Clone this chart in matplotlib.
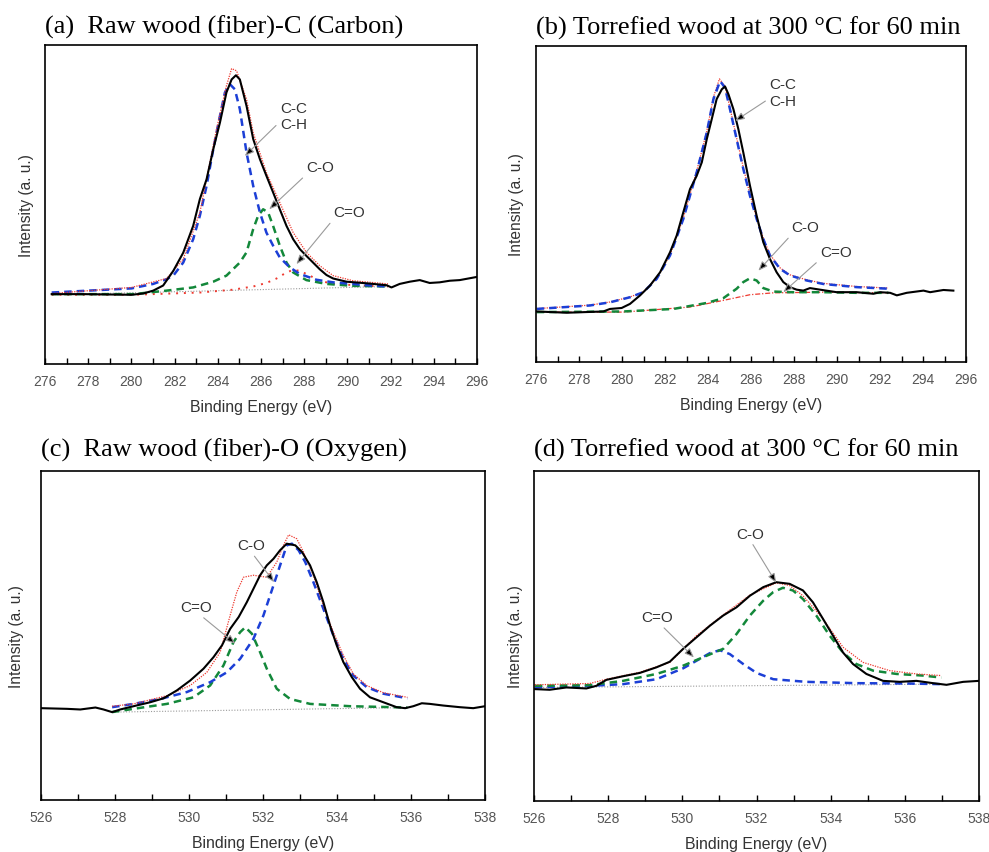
import matplotlib
matplotlib.use('Agg')
import matplotlib.pyplot as plt
from matplotlib.ticker import MultipleLocator

plt.rcParams['font.family'] = ['Liberation Sans', 'DejaVu Sans']

# ---------- (a) raw wood C1s ----------
a_meas_x = [276.31, 277.77, 280.01, 280.55, 281.01, 281.47, 281.94, 282.40, 282.86, 283.17, 283.48, 283.79,
            284.10, 284.40, 284.64, 284.84, 285.02, 285.33, 285.64, 285.95, 286.25, 286.56, 286.87, 287.18,
            287.49, 287.80, 288.10, 288.41, 288.72, 289.03, 289.34, 289.96, 290.88, 291.81, 292.04, 292.42,
            292.89, 293.35, 293.81, 294.27, 294.74, 295.20, 296.00]
a_meas_y = [21.9, 21.9, 21.7, 22.1, 23.0, 24.6, 29.2, 34.9, 43.3, 51.7, 57.9, 67.3,
            75.7, 85.1, 89.2, 90.5, 89.2, 80.9, 70.5, 64.2, 59.0, 53.8, 48.5, 43.3,
            39.1, 36.0, 33.9, 31.8, 29.7, 27.9, 26.8, 25.8, 25.3, 24.7, 24.0, 25.1,
            25.8, 26.3, 25.4, 25.6, 26.1, 26.3, 27.3]
a_cc_x = [276.31, 280.01, 281.01, 281.63, 281.94, 282.40, 282.86, 283.17, 283.48, 283.79, 284.10, 284.33,
          284.56, 284.79, 285.02, 285.33, 285.64, 285.95, 286.25, 286.56, 286.87, 287.33, 287.80, 288.57,
          289.34, 290.26, 290.88, 291.88]
a_cc_y = [22.4, 23.7, 25.1, 26.6, 27.7, 31.8, 39.1, 46.5, 55.8, 67.3, 77.8, 85.1,
          87.7, 86.1, 79.9, 66.3, 55.8, 47.5, 41.2, 37.1, 33.4, 30.3, 28.2, 26.4,
          25.6, 25.1, 24.7, 24.3]
a_sum_x = [276.31, 280.01, 281.63, 282.40, 283.17, 283.94, 284.40, 284.64, 284.87, 285.33, 285.64, 286.25,
           286.87, 287.49, 288.10, 288.72, 289.34, 290.26, 291.88]
a_sum_y = [22.1, 24.0, 26.8, 32.9, 47.5, 73.6, 87.2, 92.6, 91.9, 83.0, 72.5, 60.0,
           50.6, 41.2, 35.0, 30.8, 27.7, 26.1, 25.1]
a_co_x = [276.31, 280.09, 281.63, 282.86, 283.79, 284.40, 285.02, 285.33, 285.64, 285.87, 286.10, 286.33,
          286.56, 286.87, 287.18, 287.49, 288.10, 289.03, 290.26, 291.88]
a_co_y = [21.9, 21.9, 23.0, 24.0, 25.8, 27.7, 31.8, 35.0, 42.3, 46.5, 48.5, 47.5,
          43.3, 37.1, 31.8, 28.7, 26.3, 25.1, 24.5, 24.3]
a_cdo_x = [276.31, 280.09, 283.17, 284.71, 285.64, 286.25, 286.72, 287.18, 287.49, 287.80, 288.26, 288.72,
           289.34, 290.88, 291.88]
a_cdo_y = [21.7, 21.7, 22.4, 23.3, 24.3, 25.4, 26.8, 28.7, 29.5, 29.2, 27.7, 26.1,
           25.1, 24.5, 24.3]
a_base_x = [276.31, 291.88]
a_base_y = [21.7, 24.3]

# ---------- (b) torrefied C1s ----------
b_meas_x = [276.03, 277.43, 279.13, 279.44, 279.98, 280.37, 280.84, 281.30, 281.77, 282.23, 282.54, 282.85,
            283.16, 283.47, 283.71, 283.94, 284.17, 284.40, 284.64, 284.79, 284.95, 285.18, 285.41, 285.64,
            285.95, 286.26, 286.57, 286.88, 287.19, 287.50, 287.81, 288.12, 288.43, 288.74, 289.21, 289.98,
            290.91, 291.69, 292.00, 292.47, 292.78, 293.24, 294.02, 294.33, 294.95, 295.41]
b_meas_y = [16.0, 15.6, 16.0, 16.8, 17.1, 18.4, 21.1, 24.2, 28.4, 34.7, 40.0, 47.4,
            54.7, 58.9, 63.2, 70.5, 76.8, 83.2, 86.3, 87.2, 84.7, 80.0, 73.7, 66.3,
            55.8, 46.3, 37.9, 32.6, 28.4, 25.3, 23.7, 22.9, 22.6, 23.4, 22.9, 22.1,
            22.1, 21.6, 22.1, 21.9, 21.1, 21.9, 22.6, 22.1, 22.8, 22.6]
b_cc_x = [276.03, 278.51, 279.44, 280.37, 280.99, 281.61, 282.23, 282.85, 283.47, 283.94, 284.25, 284.56,
          284.79, 285.02, 285.33, 285.64, 285.95, 286.26, 286.57, 286.88, 287.35, 287.81, 288.59, 289.36,
          290.91, 292.39]
b_cc_y = [16.8, 17.9, 18.9, 20.5, 22.1, 26.3, 33.7, 45.3, 60.0, 72.6, 83.2, 88.9,
          86.8, 80.0, 70.5, 61.1, 52.6, 45.3, 38.9, 33.7, 29.5, 27.4, 25.8, 24.7,
          23.7, 23.2]
b_sum_x = [276.03, 278.51, 279.44, 280.37, 280.99, 281.61, 282.23, 282.85, 283.47, 283.94, 284.25, 284.53,
           284.79, 285.02, 285.33, 285.64, 285.95, 286.26, 286.57, 286.88, 287.35, 287.81, 288.59, 289.36,
           290.91, 292.39]
b_sum_y = [16.9, 18.0, 19.0, 20.6, 22.2, 26.5, 33.9, 45.6, 60.4, 73.0, 83.8, 89.6,
           87.2, 80.4, 70.9, 61.5, 53.0, 45.6, 39.2, 34.0, 29.8, 27.6, 26.0, 24.9,
           23.9, 23.4]
b_co_x = [276.03, 280.06, 282.39, 283.94, 284.71, 285.33, 285.64, 285.95, 286.26, 286.57, 287.04, 287.81,
          289.36, 290.91, 292.39]
b_co_y = [15.8, 16.0, 16.8, 18.7, 20.2, 23.2, 25.3, 26.5, 25.8, 23.4, 22.3, 22.1,
          22.1, 21.9, 21.9]
b_cdo_x = [276.03, 280.06, 283.16, 284.71, 285.95, 287.04, 289.36, 292.39]
b_cdo_y = [15.8, 15.8, 17.4, 19.5, 21.3, 21.9, 22.1, 21.9]

# ---------- (c) raw wood O1s ----------
c_meas_x = [526.00, 526.70, 527.06, 527.47, 527.69, 527.92, 528.14, 528.50, 528.95, 529.31, 529.67, 530.03,
            530.39, 530.66, 530.89, 531.11, 531.34, 531.56, 531.74, 531.92, 532.10, 532.28, 532.46, 532.64,
            532.87, 533.05, 533.27, 533.45, 533.63, 533.81, 533.99, 534.17, 534.40, 534.62, 534.89, 535.25,
            535.61, 535.84, 536.06, 536.29, 536.51, 536.87, 537.32, 537.68, 538.00]
c_meas_y = [27.9, 27.7, 27.5, 28.1, 27.5, 26.7, 27.5, 28.5, 29.7, 30.9, 33.3, 36.3,
            39.9, 43.4, 47.0, 52.0, 55.6, 60.1, 64.2, 68.3, 71.3, 73.3, 75.9, 77.9,
            77.4, 75.4, 71.3, 66.2, 60.1, 53.0, 47.0, 41.9, 37.3, 33.8, 31.2, 29.7,
            28.2, 27.9, 28.5, 29.4, 29.2, 28.7, 28.2, 27.9, 28.5]
c_co_x = [527.92, 528.50, 529.22, 529.94, 530.57, 531.02, 531.38, 531.74, 532.01, 532.28, 532.46, 532.64,
          532.78, 532.96, 533.14, 533.36, 533.63, 533.90, 534.17, 534.44, 534.80, 535.25, 535.90]
c_co_y = [28.2, 29.2, 30.7, 32.8, 35.8, 38.8, 42.9, 49.0, 56.1, 65.2, 71.3, 77.4,
          77.9, 75.9, 72.3, 66.2, 58.1, 50.0, 42.9, 37.8, 34.3, 32.3, 30.9]
c_sum_x = [527.92, 528.50, 529.40, 530.03, 530.48, 530.84, 531.11, 531.29, 531.47, 531.74, 532.10, 532.37,
           532.55, 532.69, 532.91, 533.09, 533.36, 533.63, 533.90, 534.17, 534.44, 534.80, 535.25, 535.90]
c_sum_y = [28.5, 29.2, 31.7, 34.8, 38.8, 44.9, 56.1, 63.2, 67.7, 68.3, 67.7, 72.3,
           77.4, 80.6, 79.4, 75.4, 68.3, 59.1, 51.0, 43.9, 38.3, 34.8, 32.6, 31.2]
c_cdo_x = [527.92, 528.50, 529.40, 530.12, 530.57, 530.93, 531.20, 531.38, 531.52, 531.70, 531.92, 532.10,
           532.37, 532.73, 533.27, 534.35, 535.90]
c_cdo_y = [26.7, 27.7, 29.2, 31.2, 34.8, 40.9, 48.0, 51.0, 52.5, 50.5, 44.9, 39.9,
           33.8, 30.7, 29.2, 28.5, 28.1]
c_base_x = [527.92, 535.90]
c_base_y = [26.7, 28.1]

# ---------- (d) torrefied O1s ----------
d_meas_x = [526.02, 526.42, 526.87, 527.41, 527.68, 527.95, 528.40, 528.85, 529.30, 529.66, 530.02, 530.38,
            530.74, 531.10, 531.46, 531.82, 532.18, 532.53, 532.89, 533.25, 533.52, 533.79, 534.06, 534.33,
            534.60, 534.96, 535.41, 535.86, 536.31, 536.76, 537.12, 537.57, 538.00]
d_meas_y = [33.9, 33.7, 34.4, 34.1, 34.9, 36.7, 37.8, 38.8, 40.5, 42.2, 46.1, 49.6,
            53.1, 56.2, 58.7, 62.2, 64.8, 66.3, 65.8, 63.8, 60.2, 55.2, 50.1, 45.0,
            41.5, 38.5, 36.4, 36.1, 36.4, 35.7, 35.2, 36.1, 36.4]
d_sum_x = [526.02, 527.50, 527.95, 528.85, 529.66, 530.38, 531.10, 531.82, 532.53, 532.89, 533.25, 533.79,
           534.33, 534.87, 535.59, 536.31, 536.98]
d_sum_y = [35.2, 35.6, 36.9, 39.0, 42.0, 50.1, 56.4, 62.4, 66.1, 65.3, 62.2, 55.2,
           46.6, 42.0, 39.5, 38.5, 38.0]
d_co_x = [526.02, 527.50, 528.40, 529.30, 530.02, 530.65, 531.10, 531.46, 531.82, 532.18, 532.45, 532.71,
          532.98, 533.25, 533.61, 533.97, 534.33, 534.69, 535.14, 535.77, 536.49, 536.98]
d_co_y = [34.9, 35.1, 36.4, 38.5, 41.0, 44.0, 46.1, 50.6, 56.2, 60.7, 63.3, 64.6,
          63.8, 61.2, 56.2, 50.1, 45.0, 41.5, 39.5, 38.5, 38.0, 37.4]
d_cdo_x = [526.02, 527.50, 528.40, 529.30, 530.02, 530.38, 530.74, 531.01, 531.28, 531.64, 532.00, 532.45,
           533.34, 534.69, 536.04, 536.98]
d_cdo_y = [34.4, 34.9, 35.4, 36.9, 40.2, 42.5, 44.8, 45.7, 44.5, 41.5, 38.8, 36.9,
           36.1, 35.7, 35.6, 35.4]
d_base_x = [526.02, 536.98]
d_base_y = [34.4, 35.4]

titles = ['(a)  Raw wood (fiber)-C (Carbon)',
          '(b) Torrefied wood at 300 \u00b0C for 60 min',
          '(c)  Raw wood (fiber)-O (Oxygen)',
          '(d) Torrefied wood at 300 \u00b0C for 60 min']

BLUE = '#1c3fd6'
GREEN = '#13883a'
RED = '#ee3a30'
GREY = '#9a9a9a'

fig = plt.figure(figsize=(9.89, 8.53), dpi=100)
ax_a = fig.add_axes([0.0455, 0.5721, 0.4368, 0.374])
ax_b = fig.add_axes([0.542, 0.5744, 0.4348, 0.3705])
ax_c = fig.add_axes([0.0415, 0.061, 0.449, 0.3857])
ax_d = fig.add_axes([0.540, 0.0598, 0.450, 0.3869])


def style_axis(ax, xlim, ylim, ypad=9):
    ax.set_xlim(*xlim)
    ax.set_ylim(*ylim)
    ax.xaxis.set_major_locator(MultipleLocator(2))
    ax.xaxis.set_minor_locator(MultipleLocator(1))
    ax.tick_params(axis='x', which='both', direction='in', length=4, width=1,
                   labelsize=10, labelcolor='#555555', pad=7)
    ax.set_yticks([])
    for s in ax.spines.values():
        s.set_linewidth(1.2)
    ax.set_xlabel('Binding Energy (eV)', fontsize=11.4, color='#333333', labelpad=8)
    ax.set_ylabel('Intensity (a. u.)', fontsize=11.2, color='#333333', labelpad=ypad)


def label(ax, text, txy, head, rel=(0, 0)):
    ax.annotate(text, xy=head, xytext=txy, fontsize=11, color='#333333',
                ha='left', va='center', linespacing=1.2,
                arrowprops=dict(arrowstyle='-|>,head_length=0.5,head_width=0.2',
                                color=GREY, fc='black', lw=0.8, relpos=rel,
                                shrinkA=1, shrinkB=0))


# (a)
ax = ax_a
ax.plot(a_base_x, a_base_y, color=GREY, lw=0.8, ls=(0, (1, 1.5)))
ax.plot(a_cdo_x, a_cdo_y, color=RED, lw=1.4, ls=(0, (1, 3)))
ax.plot(a_co_x, a_co_y, color=GREEN, lw=1.8, ls=(0, (3, 2)))
ax.plot(a_cc_x, a_cc_y, color=BLUE, lw=1.8, ls=(0, (3, 2)))
ax.plot(a_sum_x, a_sum_y, color=RED, lw=0.9, ls=(0, (1, 1)))
ax.plot(a_meas_x, a_meas_y, color='black', lw=1.5)
style_axis(ax, (276, 296), (0, 100), ypad=8)
label(ax, 'C-C\nC-H', (286.87, 77.8), (285.25, 65.2), rel=(0, 0.3))
label(ax, 'C-O', (288.1, 61.6), (286.38, 48.5))
label(ax, 'C=O', (289.34, 47.5), (287.64, 31.3))

# (b)
ax = ax_b
ax.plot(b_cdo_x, b_cdo_y, color=RED, lw=0.9, ls=(0, (4, 1.5, 1, 1.5)))
ax.plot(b_co_x, b_co_y, color=GREEN, lw=1.8, ls=(0, (3, 2)))
ax.plot(b_sum_x, b_sum_y, color=RED, lw=0.9, ls=(0, (1, 1)))
ax.plot(b_cc_x, b_cc_y, color=BLUE, lw=1.8, ls=(0, (3, 2)))
ax.plot(b_meas_x, b_meas_y, color='black', lw=1.5)
style_axis(ax, (276, 296), (0, 100), ypad=9)
label(ax, 'C-C\nC-H', (286.85, 85.3), (285.26, 76.3), rel=(0, 0.3))
label(ax, 'C-O', (287.89, 42.6), (286.34, 28.9))
label(ax, 'C=O', (289.21, 34.7), (287.5, 22.1))

# (c)
ax = ax_c
ax.plot(c_base_x, c_base_y, color=GREY, lw=0.8, ls=(0, (1, 1.5)))
ax.plot(c_cdo_x, c_cdo_y, color=GREEN, lw=1.8, ls=(0, (3, 2)))
ax.plot(c_co_x, c_co_y, color=BLUE, lw=1.8, ls=(0, (3, 2)))
ax.plot(c_sum_x, c_sum_y, color=RED, lw=0.9, ls=(0, (1, 1)))
ax.plot(c_meas_x, c_meas_y, color='black', lw=1.5)
style_axis(ax, (526, 538), (0, 100), ypad=12)
label(ax, 'C-O', (531.31, 77.4), (532.30, 66.2), rel=(0.5, 0))
label(ax, 'C=O', (529.76, 58.6), (531.25, 47.5), rel=(0.6, 0))

# (d)
ax = ax_d
ax.plot(d_base_x, d_base_y, color=GREY, lw=0.8, ls=(0, (1, 1.5)))
ax.plot(d_cdo_x, d_cdo_y, color=BLUE, lw=1.8, ls=(0, (3, 2)))
ax.plot(d_co_x, d_co_y, color=GREEN, lw=1.8, ls=(0, (3, 2)))
ax.plot(d_sum_x, d_sum_y, color=RED, lw=0.9, ls=(0, (1, 1)))
ax.plot(d_meas_x, d_meas_y, color='black', lw=1.5)
style_axis(ax, (526, 538), (0, 100), ypad=8)
label(ax, 'C-O', (531.46, 81.0), (532.53, 66.1), rel=(0.5, 0))
label(ax, 'C=O', (528.89, 55.7), (530.31, 43.5), rel=(0.6, 0))

for ax, t, yb in zip([ax_a, ax_b, ax_c, ax_d], titles, [1.04, 1.04, 1.046, 1.046]):
    ax.text(0.0, yb, t, transform=ax.transAxes, ha='left', va='baseline',
            fontsize=19, family=['Liberation Serif', 'DejaVu Serif'])

fig.savefig('out.png', dpi=100)
